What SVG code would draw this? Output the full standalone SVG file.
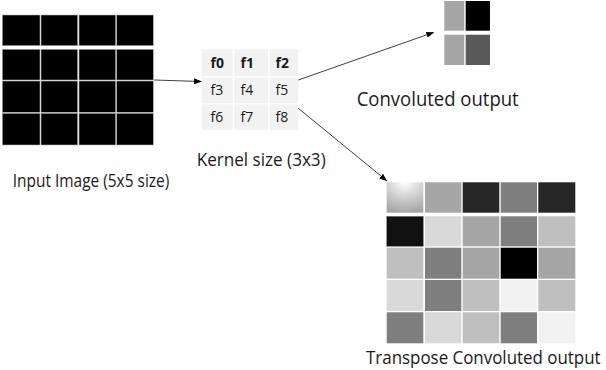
<svg xmlns="http://www.w3.org/2000/svg" width="606" height="370" viewBox="0 0 606 370">
<style>
.lbl{font-family:"Open Sans","Liberation Sans",sans-serif;fill:#1a1a1a}
.k{font-family:"Open Sans","Liberation Sans",sans-serif;font-size:14px;fill:#1a1a1a}
.kb{font-weight:bold}
.in rect{fill:#000;stroke:#b0b0b0;stroke-width:0.6}
.kc rect{fill:#f2f2f2}
.edge{stroke:#404040;stroke-width:1;fill:none;marker-end:url(#ah)}
</style>
<defs>
<marker id="ah" markerWidth="8" markerHeight="6" refX="7" refY="3" orient="auto" markerUnits="userSpaceOnUse">
<path d="M0,0 L8,3 L0,6 z" fill="#000"/>
</marker>
<radialGradient id="rg" cx="0.5" cy="0" r="1">
<stop offset="0" stop-color="#ffffff"/>
<stop offset="0.5" stop-color="#d0d0d0"/>
<stop offset="1" stop-color="#a6a6a6"/>
</radialGradient>
</defs>
<rect width="606" height="370" fill="#fff"/>
<g id="input-image" class="in">
<rect x="2.3" y="15" width="37.7" height="30.7"/><rect x="41" y="15" width="36.7" height="30.7"/><rect x="79" y="15" width="36.7" height="30.7"/><rect x="116.7" y="15" width="36.6" height="30.7"/>
<rect x="2.3" y="49.3" width="37.7" height="30.7"/><rect x="41" y="49.3" width="36.7" height="30.7"/><rect x="79" y="49.3" width="36.7" height="30.7"/><rect x="116.7" y="49.3" width="36.6" height="30.7"/>
<rect x="2.3" y="81" width="37.7" height="31.3"/><rect x="41" y="81" width="36.7" height="31.3"/><rect x="79" y="81" width="36.7" height="31.3"/><rect x="116.7" y="81" width="36.6" height="31.3"/>
<rect x="2.3" y="113.3" width="37.7" height="31.7"/><rect x="41" y="113.3" width="36.7" height="31.7"/><rect x="79" y="113.3" width="36.7" height="31.7"/><rect x="116.7" y="113.3" width="36.6" height="31.7"/>
</g>
<text class="lbl" x="12.7" y="186.5" font-size="17.5" textLength="156.6" lengthAdjust="spacingAndGlyphs">Input Image (5x5 size)</text>
<g id="kernel">
<g class="kc">
<rect x="201.7" y="49.3" width="31" height="26.7"/><rect x="234.3" y="49.3" width="34" height="26.7"/><rect x="270" y="49.3" width="28.3" height="26.7"/>
<rect x="201.7" y="77.7" width="31" height="25.6"/><rect x="234.3" y="77.7" width="34" height="25.6"/><rect x="270" y="77.7" width="28.3" height="25.6"/>
<rect x="201.7" y="104.3" width="31" height="25.7"/><rect x="234.3" y="104.3" width="34" height="25.7"/><rect x="270" y="104.3" width="28.3" height="25.7"/>
</g>
<text class="k kb" x="210.5" y="67.8">f0</text><text class="k kb" x="240.5" y="67.8">f1</text><text class="k kb" x="275.5" y="67.8">f2</text>
<text class="k" x="210.5" y="95">f3</text><text class="k" x="240.5" y="95">f4</text><text class="k" x="275.5" y="95">f5</text>
<text class="k" x="210.5" y="122">f6</text><text class="k" x="240.5" y="122">f7</text><text class="k" x="275.5" y="122">f8</text>
</g>
<text class="lbl" x="196.7" y="165.5" font-size="19" textLength="129" lengthAdjust="spacingAndGlyphs">Kernel size (3x3)</text>
<g id="convoluted-output">
<rect x="444.3" y="1" width="20" height="29.7" fill="#a6a6a6"/>
<rect x="465.7" y="1" width="24.3" height="29.7" fill="#000"/>
<rect x="444.3" y="34.7" width="20" height="30.3" fill="#a6a6a6"/>
<rect x="465.7" y="34.7" width="24.3" height="30.3" fill="#595959"/>
</g>
<text class="lbl" x="356.7" y="105.7" font-size="20" textLength="162" lengthAdjust="spacingAndGlyphs">Convoluted output</text>
<g id="transpose-output">
<rect x="386.7" y="182.3" width="36.6" height="30.4" fill="url(#rg)"/>
<rect x="425" y="182.3" width="36.3" height="30.4" fill="#a6a6a6"/>
<rect x="462.7" y="182.3" width="36.6" height="30.4" fill="#262626"/>
<rect x="500.7" y="182.3" width="36.3" height="30.4" fill="#7f7f7f"/>
<rect x="538.3" y="182.3" width="37" height="30.4" fill="#262626"/>
<rect x="386.7" y="216.3" width="36.6" height="30" fill="#111111" stroke="#7f7f7f" stroke-width="0.5"/>
<rect x="425" y="216.3" width="36.3" height="30" fill="#d9d9d9"/>
<rect x="462.7" y="216.3" width="36.6" height="30" fill="#a6a6a6"/>
<rect x="500.7" y="216.3" width="36.3" height="30" fill="#7f7f7f"/>
<rect x="538.3" y="216.3" width="37" height="30" fill="#bfbfbf"/>
<rect x="386.7" y="247.7" width="36.6" height="31" fill="#bfbfbf"/>
<rect x="425" y="247.7" width="36.3" height="31" fill="#7f7f7f"/>
<rect x="462.7" y="247.7" width="36.6" height="31" fill="#a6a6a6"/>
<rect x="500.7" y="247.7" width="36.3" height="31" fill="#000000"/>
<rect x="538.3" y="247.7" width="37" height="31" fill="#a6a6a6"/>
<rect x="386.7" y="280" width="36.6" height="31" fill="#d9d9d9"/>
<rect x="425" y="280" width="36.3" height="31" fill="#7f7f7f"/>
<rect x="462.7" y="280" width="36.6" height="31" fill="#bfbfbf"/>
<rect x="500.7" y="280" width="36.3" height="31" fill="#f2f2f2"/>
<rect x="538.3" y="280" width="37" height="31" fill="#bfbfbf"/>
<rect x="386.7" y="312.3" width="36.6" height="31" fill="#7f7f7f"/>
<rect x="425" y="312.3" width="36.3" height="31" fill="#d9d9d9"/>
<rect x="462.7" y="312.3" width="36.6" height="31" fill="#bfbfbf"/>
<rect x="500.7" y="312.3" width="36.3" height="31" fill="#7f7f7f"/>
<rect x="538.3" y="312.3" width="37" height="31" fill="#f2f2f2"/>
</g>
<text class="lbl" transform="translate(366,363.5) scale(0.915,1)" x="0" y="0" font-size="18.5">Transpose Convoluted output</text>
<g id="connectors">
<line class="edge" x1="154" y1="80" x2="201" y2="81.5"/>
<line class="edge" x1="298.3" y1="80" x2="433.3" y2="32.5"/>
<line class="edge" x1="298.3" y1="108.3" x2="386.5" y2="180.5"/>
</g>
</svg>
